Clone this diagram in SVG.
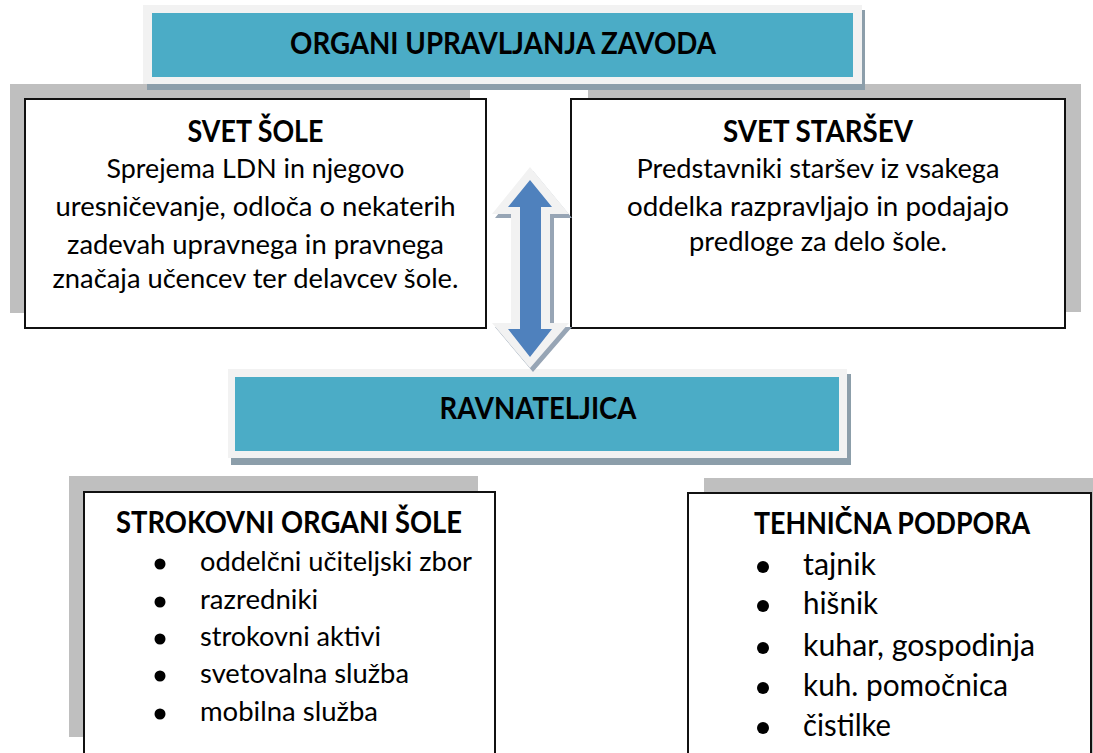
<svg xmlns="http://www.w3.org/2000/svg" width="1093" height="753" viewBox="0 0 1093 753">
<style>
.t{font-family:Lato,"Liberation Sans",sans-serif;fill:#000}
.h{font-weight:700;font-size:30px;text-anchor:middle}
.b{font-size:27.5px;text-anchor:middle}
.li{font-size:27.5px}
.li2{font-size:30px}
.gray{fill:#bfbfbf}
.box{fill:#fff;stroke:#111;stroke-width:2}
.frame{fill:#f2f2f2}
.blue{fill:#4bacc6}
.shd{fill:#8c9eaa}
</style>
<rect width="1093" height="753" fill="#fff"/>
<!-- gray backdrops -->
<rect class="gray" x="10" y="84" width="460" height="229"/>
<rect class="gray" x="588" y="84" width="493" height="228"/>
<rect class="gray" x="69" y="476" width="409" height="261"/>
<rect class="gray" x="704" y="478" width="400" height="275"/>

<g id="organi">
<rect class="shd" x="147" y="10" width="718" height="80"/>
<rect class="frame" x="143" y="5" width="719" height="79"/>
<rect class="blue" x="152" y="13" width="701" height="64"/>
<text class="t h" x="503" y="54" textLength="426" lengthAdjust="spacingAndGlyphs">ORGANI UPRAVLJANJA ZAVODA</text>
</g>

<g id="svet-sole">
<rect class="box" x="25" y="99" width="461" height="229"/>
<text class="t h" x="255.5" y="142" textLength="136" lengthAdjust="spacingAndGlyphs">SVET ŠOLE</text>
<text class="t b" x="255.5" y="178" textLength="298" lengthAdjust="spacingAndGlyphs">Sprejema LDN in njegovo</text>
<text class="t b" x="255.5" y="216" textLength="400" lengthAdjust="spacingAndGlyphs">uresničevanje, odloča o nekaterih</text>
<text class="t b" x="255.5" y="254" textLength="377" lengthAdjust="spacingAndGlyphs">zadevah upravnega in pravnega</text>
<text class="t b" x="255.5" y="288" textLength="406" lengthAdjust="spacingAndGlyphs">značaja učencev ter delavcev šole.</text>
</g>

<g id="svet-starsev">
<rect class="box" x="571" y="99" width="494" height="229"/>
<text class="t h" x="818" y="142" textLength="190" lengthAdjust="spacingAndGlyphs">SVET STARŠEV</text>
<text class="t b" x="818" y="178" textLength="363" lengthAdjust="spacingAndGlyphs">Predstavniki staršev iz vsakega</text>
<text class="t b" x="818" y="216" textLength="382" lengthAdjust="spacingAndGlyphs">oddelka razpravljajo in podajajo</text>
<text class="t b" x="818" y="251" textLength="258" lengthAdjust="spacingAndGlyphs">predloge za delo šole.</text>
</g>

<g id="ravnateljica">
<rect class="shd" x="231" y="374" width="620" height="91"/>
<rect class="frame" x="228" y="369" width="619" height="89"/>
<rect class="blue" x="235" y="377" width="604" height="74"/>
<text class="t h" x="538" y="419" textLength="197" lengthAdjust="spacingAndGlyphs">RAVNATELJICA</text>
</g>

<g id="connectors">
<polygon fill="#97a5b5" points="533,171 572,218 554,218 554,327 572,327 533,372 495,327 514,327 514,218 495,218"/>
<polygon fill="#f2f2f2" points="530,167 569,214 550,214 550,323 569,323 530,368 492,323 511,323 511,214 492,214"/>
<polygon fill="#4f81bd" points="530,180 552,207 541,207 541,329 552,329 530,357 508,329 520,329 520,207 508,207"/>
</g>

<g id="strokovni">
<rect class="box" x="84" y="492" width="411" height="270"/>
<text class="t h" x="289" y="533" textLength="346" lengthAdjust="spacingAndGlyphs">STROKOVNI ORGANI ŠOLE</text>
<circle cx="160" cy="564" r="5.5"/>
<circle cx="160" cy="602" r="5.5"/>
<circle cx="160" cy="639" r="5.5"/>
<circle cx="160" cy="676" r="5.5"/>
<circle cx="160" cy="714" r="5.5"/>
<text class="t li" x="200" y="571" textLength="272" lengthAdjust="spacingAndGlyphs">oddelčni učiteljski zbor</text>
<text class="t li" x="200" y="609" textLength="118" lengthAdjust="spacingAndGlyphs">razredniki</text>
<text class="t li" x="200" y="646" textLength="181" lengthAdjust="spacingAndGlyphs">strokovni aktivi</text>
<text class="t li" x="200" y="683" textLength="209" lengthAdjust="spacingAndGlyphs">svetovalna služba</text>
<text class="t li" x="200" y="721" textLength="178" lengthAdjust="spacingAndGlyphs">mobilna služba</text>
</g>

<g id="tehnicna">
<rect class="box" x="688" y="493" width="403" height="270"/>
<text class="t h" x="892" y="534" textLength="276" lengthAdjust="spacingAndGlyphs">TEHNIČNA PODPORA</text>
<circle cx="763" cy="567" r="6"/>
<circle cx="763" cy="606" r="6"/>
<circle cx="763" cy="648" r="6"/>
<circle cx="763" cy="688" r="6"/>
<circle cx="763" cy="728" r="6"/>
<text class="t li2" x="803" y="575" textLength="73" lengthAdjust="spacingAndGlyphs">tajnik</text>
<text class="t li2" x="803" y="614" textLength="75" lengthAdjust="spacingAndGlyphs">hišnik</text>
<text class="t li2" x="803" y="656" textLength="232" lengthAdjust="spacingAndGlyphs">kuhar, gospodinja</text>
<text class="t li2" x="803" y="696" textLength="205" lengthAdjust="spacingAndGlyphs">kuh. pomočnica</text>
<text class="t li2" x="803" y="736" textLength="88" lengthAdjust="spacingAndGlyphs">čistilke</text>
</g>
</svg>
